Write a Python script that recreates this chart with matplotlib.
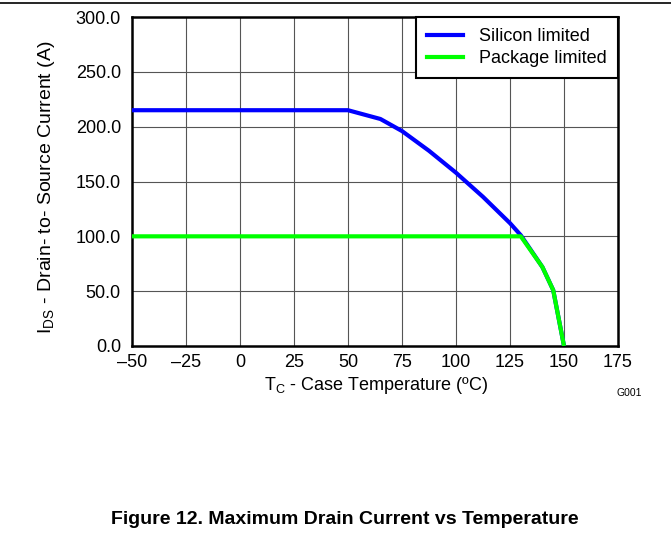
import matplotlib
matplotlib.use("Agg")
import matplotlib.pyplot as plt
from matplotlib.lines import Line2D

plt.rcParams['font.family'] = ['Liberation Sans', 'DejaVu Sans']

# Silicon-limited drain current vs case temperature
si_temp = [-50, 50, 65, 75, 87.5, 100, 112.5, 125, 130, 140, 145, 150]
si_current = [215, 215, 207, 196, 178, 158, 136, 112, 101, 72, 51, 0]

# Package-limited drain current vs case temperature
pkg_temp = [-50, 130, 140, 145, 150]
pkg_current = [100, 100, 72, 51, 0]

x_ticks = [-50, -25, 0, 25, 50, 75, 100, 125, 150, 175]
x_tick_labels = ['–50', '–25', '0', '25', '50', '75', '100', '125', '150', '175']
y_ticks = [0, 50, 100, 150, 200, 250, 300]
y_tick_labels = ['0.0', '50.0', '100.0', '150.0', '200.0', '250.0', '300.0']

W, H = 671, 544
fig = plt.figure(figsize=(W / 100, H / 100), dpi=100)
left, right, top, bottom = 132, 618, 17, 346
ax = fig.add_axes([left / W, 1 - bottom / H, (right - left) / W, (bottom - top) / H])

ax.plot(si_temp, si_current, color='#0000FF', lw=3, solid_capstyle='butt', zorder=3)
ax.plot(pkg_temp, pkg_current, color='#00FF00', lw=3, solid_capstyle='butt', zorder=4)

ax.set_xlim(-50, 175)
ax.set_ylim(0, 300)
ax.set_xticks(x_ticks)
ax.set_xticklabels(x_tick_labels)
ax.set_yticks(y_ticks)
ax.set_yticklabels(y_tick_labels)
ax.tick_params(length=0, labelsize=13, colors='black')
ax.tick_params(axis='y', pad=8)
ax.tick_params(axis='x', pad=6)

# grid: vertical every 25 degC, horizontal every 50 A
for xv in x_ticks[1:-1]:
    ax.axvline(xv, color='#555555', lw=0.8, zorder=1)
for yv in y_ticks[1:-1]:
    ax.axhline(yv, color='#555555', lw=0.8, zorder=1)

for sp in ax.spines.values():
    sp.set_linewidth(1.8)
    sp.set_color('black')

fig.text(376 / W, 1 - 386 / H, 'T$_\\mathregular{C}$ - Case Temperature (ºC)',
         fontsize=13, ha='center', va='center')
fig.text(47 / W, 1 - 187 / H, 'I$_\\mathregular{DS}$ - Drain- to- Source Current (A)',
         fontsize=14, ha='center', va='center', rotation=90)

handles = [Line2D([], [], color='#0000FF', lw=3),
           Line2D([], [], color='#00FF00', lw=3)]
leg = ax.legend(handles, ['Silicon limited', 'Package limited'], loc='upper right',
                fontsize=13, frameon=True, fancybox=False, borderaxespad=0,
                handlelength=2.0, handletextpad=0.9, labelspacing=0.3,
                borderpad=0.6)
leg.get_frame().set_edgecolor('black')
leg.get_frame().set_linewidth(1.5)
leg.get_frame().set_alpha(1)
leg.set_zorder(10)

fig.text(629 / W, 1 - 393 / H, 'G001', fontsize=7.5, ha='center', va='center')

# rule along the top of the page
fig.add_artist(Line2D([0, 1], [1 - 3 / H, 1 - 3 / H], color='black', lw=1.2,
                      transform=fig.transFigure))

fig.text(345 / W, 1 - 520 / H, 'Figure 12. Maximum Drain Current vs Temperature',
         fontsize=14, fontweight='bold', ha='center', va='center')

fig.savefig('out.png', dpi=100, facecolor='white')
